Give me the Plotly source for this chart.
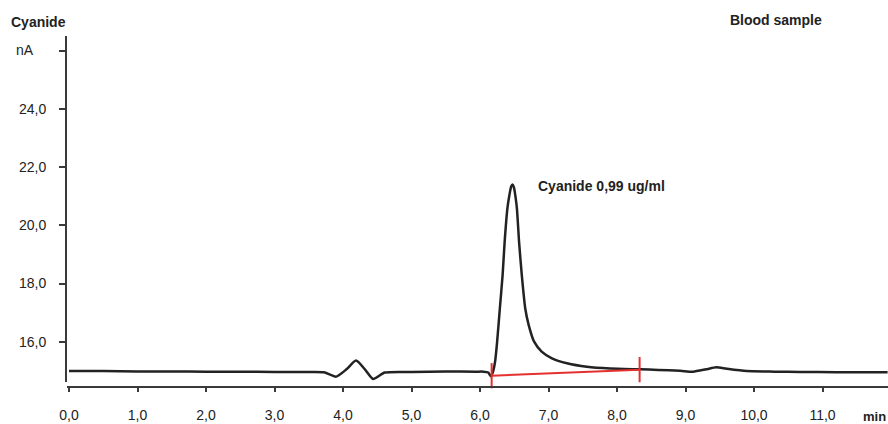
import plotly.graph_objects as go

# Chromatogram trace (time in min, signal in nA)
time_min = [0.0, 0.5, 1.0, 1.5, 2.0, 2.5, 3.0, 3.5, 3.72, 3.90, 4.05, 4.19, 4.32, 4.44, 4.61,
            5.0, 5.5, 5.94, 6.05, 6.12, 6.16, 6.19, 6.22, 6.25, 6.29, 6.33, 6.36, 6.40, 6.43,
            6.455, 6.475, 6.495, 6.52, 6.54, 6.57, 6.61, 6.66, 6.71, 6.79, 6.90, 7.05, 7.27,
            7.56, 7.9, 8.34, 8.6, 8.92, 9.11, 9.3, 9.45, 9.6, 9.89, 10.3, 10.67, 11.2, 11.95]
signal_nA = [14.99, 14.99, 14.98, 14.98, 14.97, 14.97, 14.96, 14.96, 14.95, 14.80, 15.05, 15.35,
             15.05, 14.72, 14.94, 14.96, 14.98, 14.97, 14.97, 14.94, 14.80, 14.97, 15.31, 16.0,
             17.15, 18.29, 19.44, 20.58, 21.05, 21.33, 21.40, 21.30, 20.95, 20.55, 19.44, 18.29,
             17.15, 16.58, 16.0, 15.66, 15.43, 15.26, 15.14, 15.08, 15.05, 15.03, 15.0, 14.97,
             15.05, 15.12, 15.07, 14.99, 14.97, 14.96, 14.95, 14.95]

# Integration baseline (red)
base_time = [6.17, 8.33]
base_nA = [14.83, 15.04]

# Axis ticks
x_ticks = list(range(0, 12))
x_ticktext = [f"{v},0" for v in x_ticks]
y_ticks = [16, 18, 20, 22, 24, 26]
y_ticktext = ["16,0", "18,0", "20,0", "22,0", "24,0", ""]

FONT = "Liberation Sans, Arial, sans-serif"
INK = "#222222"
AX = "#3a3a3a"
FS = 14

fig = go.Figure()
fig.add_trace(go.Scatter(
    x=time_min, y=signal_nA, mode="lines",
    line=dict(color=INK, width=2.5, shape="spline", smoothing=0.6),
    hoverinfo="skip", showlegend=False))
fig.add_trace(go.Scatter(
    x=base_time, y=base_nA, mode="lines+markers",
    line=dict(color="#e53030", width=2),
    marker=dict(symbol="line-ns", size=18, line=dict(color="#e53030", width=2)),
    cliponaxis=False, hoverinfo="skip", showlegend=False))

L, T, B = 67, 36, 37
W, H = 888, 424
ph = H - T - B
pw = W - L

def px(x):
    return (x - L) / pw

def py(y):
    return (H - B - y) / ph

fig.update_layout(
    width=W, height=H,
    margin=dict(l=L, r=0, t=T, b=B, pad=0),
    paper_bgcolor="white", plot_bgcolor="white",
    font=dict(family=FONT, size=FS, color=INK),
    xaxis=dict(range=[-2 / 68.5, (W - 69) / 68.5], anchor="free", position=0,
               tickvals=x_ticks, ticktext=x_ticktext,
               showline=True, linecolor=AX, linewidth=2,
               ticks="outside", ticklen=4, tickwidth=2, tickcolor=AX,
               showgrid=False, zeroline=False, ticklabelstandoff=11,
               tickfont=dict(size=FS, color=INK)),
    yaxis=dict(domain=[5 / ph, 1], range=[14.615, 26.505],
               tickvals=y_ticks, ticktext=y_ticktext,
               showline=True, linecolor=AX, linewidth=2,
               ticks="outside", ticklen=6, tickwidth=2, tickcolor=AX,
               showgrid=False, zeroline=False, ticklabelstandoff=10,
               tickfont=dict(size=FS, color=INK)),
    annotations=[
        dict(text="<b>Cyanide</b>", xref="paper", yref="paper", x=px(9), y=py(22),
             xanchor="left", yanchor="middle", showarrow=False, font=dict(size=FS)),
        dict(text="nA", xref="paper", yref="paper", x=px(14), y=py(50),
             xanchor="left", yanchor="middle", showarrow=False, font=dict(size=FS)),
        dict(text="<b>Blood sample</b>", xref="paper", yref="paper", x=px(728), y=py(20),
             xanchor="left", yanchor="middle", showarrow=False, font=dict(size=FS)),
        dict(text="<b>Cyanide 0,99 ug/ml</b>", xref="x", yref="y", x=6.82, y=21.35,
             xanchor="left", yanchor="middle", showarrow=False, font=dict(size=FS)),
        dict(text="<b>min</b>", xref="paper", yref="paper", x=px(861), y=py(416),
             xanchor="left", yanchor="middle", showarrow=False, font=dict(size=13)),
    ],
)

fig.write_html("out.html")
